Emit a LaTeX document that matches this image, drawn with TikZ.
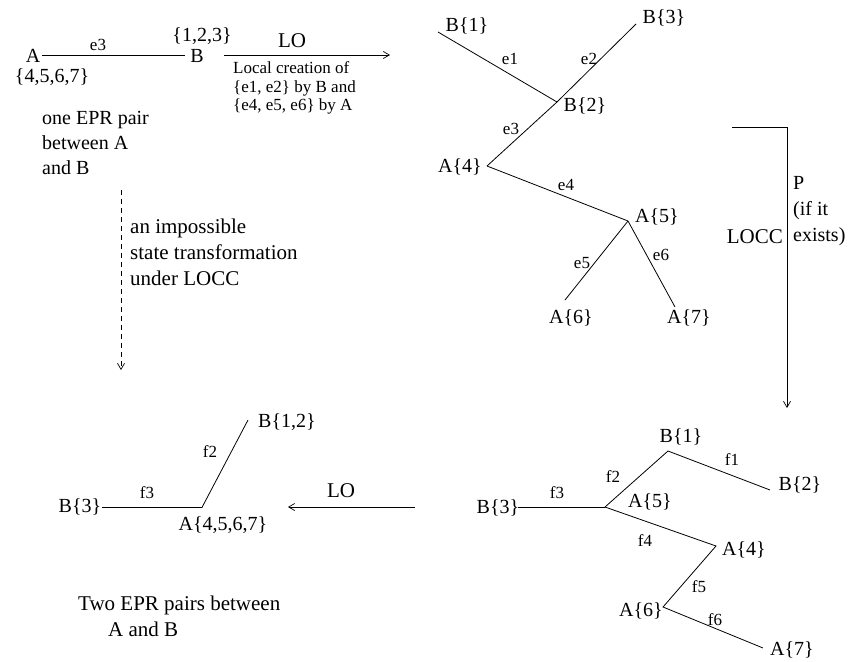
\documentclass[tikz,border=0pt]{standalone}
\usepackage{fontspec}
\setmainfont{Liberation Serif}
\usetikzlibrary{arrows.meta}
\begin{document}
\begin{tikzpicture}[x=1pt,y=-1pt,
  lbl/.style={inner sep=0pt,font=\fontsize{20}{22}\selectfont},
  elbl/.style={inner sep=0pt,font=\fontsize{17}{19}\selectfont},
  desc/.style={inner sep=0pt,align=left,anchor=west},
  edge/.style={line width=0.8pt},
  tip/.style={-{Straight Barb[length=6pt,width=7pt,line width=0.7pt]}},
]
\useasboundingbox[fill=white] (0,0) rectangle (850,661);

% ---------- top left: one EPR pair ----------
\node[lbl] (A0) at (33,56) {A};
\node[lbl] (B0) at (197,56) {B};
\coordinate (a0) at (42,55);
\coordinate (b0) at (185,55);
\draw[edge] (a0) -- (b0);
\node[elbl] (e3a) at (98,45) {e3};
\node[lbl] (s123) at (202,36) {\{1,2,3\}};
\node[lbl] (s4567) at (52,77) {\{4,5,6,7\}};
\node[desc,font=\fontsize{20}{25}\selectfont] (onepr) at (42,143) {one EPR pair\\between A\\and B};

% LO arrow top
\coordinate (lo1s) at (224,55);
\coordinate (lo1e) at (390,55);
\draw[edge,tip] (lo1s) -- (lo1e);
\node[lbl,font=\fontsize{21}{23}\selectfont] (lo1) at (292,41) {LO};
\node[desc,font=\fontsize{17}{18.5}\selectfont] (locdesc) at (233,88) {Local creation of\\\{e1, e2\} by B and\\\{e4, e5, e6\} by A};

% dashed impossible arrow
\coordinate (d1) at (121,190);
\coordinate (d2) at (121,370);
\draw[edge,dash pattern=on 5pt off 4pt,tip] (d1) -- (d2);
\node[desc,font=\fontsize{21}{26}\selectfont] (imp) at (130,252) {an impossible\\state transformation\\under LOCC};

% ---------- top right tree ----------
\coordinate (tB1) at (438,32);
\coordinate (tB3) at (636,24);
\coordinate (tB2) at (557,102);
\coordinate (tA4) at (487,166);
\coordinate (tA5) at (628,221);
\coordinate (tA6) at (565,300);
\coordinate (tA7) at (675,307);
\draw[edge] (tB1) -- (tB2);
\draw[edge] (tB3) -- (tB2);
\draw[edge] (tB2) -- (tA4);
\draw[edge] (tA4) -- (tA5);
\draw[edge] (tA5) -- (tA6);
\draw[edge] (tA5) -- (tA7);
\node[lbl] (nB1) at (467,26) {B\{1\}};
\node[lbl] (nB3) at (664,18) {B\{3\}};
\node[lbl] (nB2) at (585,106) {B\{2\}};
\node[lbl] (nA4) at (460,167) {A\{4\}};
\node[lbl] (nA5) at (657,217) {A\{5\}};
\node[lbl] (nA6) at (571,318) {A\{6\}};
\node[lbl] (nA7) at (689,318) {A\{7\}};
\node[elbl] (le1) at (510,59) {e1};
\node[elbl] (le2) at (589,59) {e2};
\node[elbl] (le3) at (511,129) {e3};
\node[elbl] (le4) at (566,185) {e4};
\node[elbl] (le5) at (582,263) {e5};
\node[elbl] (le6) at (661,255) {e6};

% LOCC bracket arrow
\coordinate (p0) at (732,127);
\coordinate (p1) at (787,127);
\coordinate (p2) at (787,408);
\draw[edge,tip] (p0) -- (p1) -- (p2);
\node[lbl,font=\fontsize{21}{23}\selectfont,anchor=east] (locc) at (783,237) {LOCC};
\node[desc,font=\fontsize{20}{26}\selectfont] (pif) at (793,211) {P\\(if it\\exists)};

% ---------- bottom right tree ----------
\coordinate (uB3) at (518,507);
\coordinate (uJ) at (605,507);
\coordinate (uB1) at (668,451);
\coordinate (uB2) at (770,490);
\coordinate (uA4) at (716,546);
\coordinate (uA6) at (663,607);
\coordinate (uA7) at (763,648);
\draw[edge] (uB3) -- (uJ);
\draw[edge] (uJ) -- (uB1) -- (uB2);
\draw[edge] (uJ) -- (uA4) -- (uA6) -- (uA7);
\node[lbl] (mB3) at (498,508) {B\{3\}};
\node[lbl] (mB1) at (681,437) {B\{1\}};
\node[lbl] (mB2) at (800,485) {B\{2\}};
\node[lbl] (mA5) at (650,502) {A\{5\}};
\node[lbl] (mA4) at (744,550) {A\{4\}};
\node[lbl] (mA6) at (641,611) {A\{6\}};
\node[lbl] (mA7) at (792,650) {A\{7\}};
\node[elbl] (lf1) at (732,460) {f1};
\node[elbl] (lf2) at (613,477) {f2};
\node[elbl] (lf3) at (557,493) {f3};
\node[elbl] (lf4) at (645,541) {f4};
\node[elbl] (lf5) at (699,587) {f5};
\node[elbl] (lf6) at (715,620) {f6};

% LO arrow bottom
\coordinate (lo2s) at (415,507);
\coordinate (lo2e) at (288,507);
\draw[edge,tip] (lo2s) -- (lo2e);
\node[lbl,font=\fontsize{21}{23}\selectfont] (lo2) at (341,491) {LO};

% ---------- bottom left ----------
\coordinate (vB3) at (102,507.4);
\coordinate (vJ) at (202,507.4);
\coordinate (vB12) at (248,420);
\draw[edge] (vB3) -- (vJ) -- (vB12);
\node[lbl] (wB3) at (80,507) {B\{3\}};
\node[lbl] (wB12) at (287,422) {B\{1,2\}};
\node[lbl] (wA) at (223,525) {A\{4,5,6,7\}};
\node[elbl] (lg2) at (210,452) {f2};
\node[elbl] (lg3) at (147,493) {f3};
\node[desc,font=\fontsize{21}{26}\selectfont] (two) at (78,616) {Two EPR pairs between\\\hspace*{30pt}A and B};
\end{tikzpicture}
\end{document}
